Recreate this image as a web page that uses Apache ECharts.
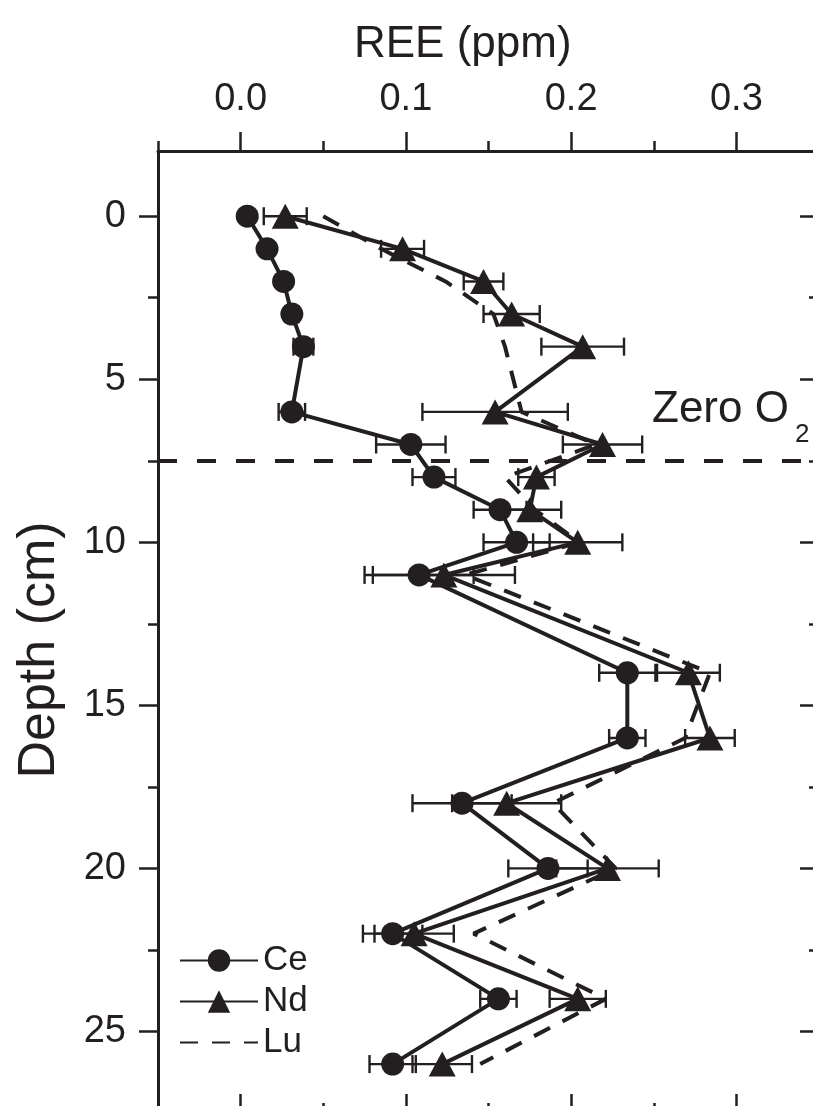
<!DOCTYPE html>
<html><head><meta charset="utf-8">
<script src="https://cdn.jsdelivr.net/npm/echarts@6/dist/echarts.min.js"></script>
<style>html,body{margin:0;padding:0;background:#fff;overflow:hidden}#c{width:813px;height:1106px}</style>
</head><body><div id="c"></div>
<script>
// ---- data ----
const depths = [0, 1, 2, 3, 4, 6, 7, 8, 9, 10, 11, 14, 16, 18, 20, 22, 24, 26];
const ceValues = [0.004, 0.016, 0.026, 0.031, 0.038, 0.031, 0.103, 0.117, 0.157, 0.167, 0.108, 0.234, 0.234, 0.134, 0.186, 0.092, 0.156, 0.092];
const ceErrors = [0.003, 0.003, 0.003, 0.004, 0.006, 0.008, 0.021, 0.013, 0.016, 0.020, 0.033, 0.017, 0.011, 0.030, 0.024, 0.018, 0.011, 0.014];
const ndValues = [0.027, 0.098, 0.147, 0.164, 0.207, 0.154, 0.219, 0.179, 0.175, 0.204, 0.123, 0.271, 0.284, 0.161, 0.222, 0.105, 0.204, 0.122];
const ndErrors = [0.013, 0.013, 0.012, 0.017, 0.025, 0.044, 0.024, 0.011, 0.019, 0.027, 0.043, 0.019, 0.015, 0.033, 0.031, 0.024, 0.017, 0.018];
const luValues = [0.050, 0.085, 0.124, 0.153, 0.160, 0.170, 0.215, 0.160, 0.178, 0.205, 0.136, 0.284, 0.269, 0.189, 0.227, 0.141, 0.221, 0.145];
const xTickLabels = [0, 0.1, 0.2, 0.3];
const xMinorTicks = [-0.05, 0.05, 0.15, 0.25, 0.35];
const yTickLabels = [0, 5, 10, 15, 20, 25];
const yMinorTicks = [2.5, 7.5, 12.5, 17.5, 22.5, 27.5];
const zeroO2Depth = 7.5;

const INK = '#231f20';
const FONT = '"Liberation Sans", Arial, Helvetica, sans-serif';

function pairs(vals) { return depths.map((d, i) => [vals[i], d]); }
function errPairs(vals, errs) { return depths.map((d, i) => [vals[i], d, errs[i]]); }

function errRender(params, api) {
  const x = api.value(0), y = api.value(1), e = api.value(2);
  const p1 = api.coord([x - e, y]), p2 = api.coord([x + e, y]);
  const h = 9;
  const style = { stroke: INK, lineWidth: 2.4 };
  return { type: 'group', children: [
    { type: 'line', shape: { x1: p1[0], y1: p1[1], x2: p2[0], y2: p2[1] }, style },
    { type: 'line', shape: { x1: p1[0], y1: p1[1] - h, x2: p1[0], y2: p1[1] + h }, style },
    { type: 'line', shape: { x1: p2[0], y1: p2[1] - h, x2: p2[0], y2: p2[1] + h }, style }
  ]};
}

function xAxisDef(position, ticks, len, inside, showLabels, showLine) {
  return {
    type: 'value', position, min: -0.05, max: 0.35,
    splitLine: { show: false },
    axisLine: { show: showLine, onZero: false, lineStyle: { color: INK, width: 3 } },
    axisTick: { show: true, customValues: ticks, length: len, inside, lineStyle: { color: INK, width: 2.5 } },
    axisLabel: showLabels ? { show: true, customValues: xTickLabels, formatter: v => v.toFixed(1),
      color: INK, fontSize: 38, fontFamily: FONT, margin: 32 } : { show: false }
  };
}
function yAxisDef(position, ticks, len, inside, showLabels, showLine) {
  return {
    type: 'value', position, inverse: true, min: -2, max: 27.5,
    splitLine: { show: false },
    axisLine: { show: showLine, onZero: false, lineStyle: { color: INK, width: 3 } },
    axisTick: { show: true, customValues: ticks, length: len, inside, lineStyle: { color: INK, width: 2.5 } },
    axisLabel: showLabels ? { show: true, customValues: yTickLabels, color: INK, fontSize: 38,
      fontFamily: FONT, margin: 32 } : { show: false }
  };
}

const chart = echarts.init(document.getElementById('c'), null, { renderer: 'canvas' });
chart.setOption({
  animation: false,
  backgroundColor: '#fff',
  textStyle: { fontFamily: FONT },
  grid: { left: 158, top: 151, width: 661, height: 962, containLabel: false, outerBoundsMode: 'none' },
  xAxis: [
    xAxisDef('top', xTickLabels, 19, false, true, true),
    xAxisDef('top', xMinorTicks, 10, false, false, false),
    xAxisDef('bottom', xTickLabels, 19, true, false, true),
    xAxisDef('bottom', xMinorTicks, 10, true, false, false)
  ],
  yAxis: [
    yAxisDef('left', yTickLabels, 19, false, true, true),
    yAxisDef('left', yMinorTicks, 10, false, false, false),
    yAxisDef('right', yTickLabels, 19, true, false, true),
    yAxisDef('right', yMinorTicks, 10, true, false, false)
  ],
  legend: {
    orient: 'vertical', left: 174, top: 938, itemWidth: 78, itemHeight: 28, itemGap: 6,
    data: ['Ce', 'Nd', 'Lu'],
    textStyle: { color: INK, fontSize: 35, fontFamily: FONT }
  },
  title: {
    text: 'REE (ppm)', left: 349, top: 18,
    textStyle: { color: INK, fontSize: 44, fontWeight: 'normal', fontFamily: FONT }
  },
  graphic: [
    { type: 'text', x: 40, y: 650, rotation: Math.PI / 2,
      style: { text: 'Depth (cm)', fill: INK, font: '52px ' + FONT, align: 'center', verticalAlign: 'middle' } },
    { type: 'text', x: 652, y: 410,
      style: { text: 'Zero O', fill: INK, font: '44px ' + FONT, align: 'left', verticalAlign: 'middle' } },
    { type: 'text', x: 795, y: 435,
      style: { text: '2', fill: INK, font: '26px ' + FONT, align: 'left', verticalAlign: 'middle' } }
  ],
  series: [
    { type: 'custom', name: 'CeErr', renderItem: errRender, data: errPairs(ceValues, ceErrors),
      encode: { x: 0, y: 1 }, z: 1, silent: true },
    { type: 'custom', name: 'NdErr', renderItem: errRender, data: errPairs(ndValues, ndErrors),
      encode: { x: 0, y: 1 }, z: 1, silent: true },
    { name: 'Lu', type: 'line', data: pairs(luValues), symbol: 'none', showSymbol: false,
      lineStyle: { color: INK, width: 4, type: [18, 14] }, itemStyle: { color: 'rgba(0,0,0,0)' }, z: 2,
      markLine: { silent: true, symbol: ['none', 'none'], label: { show: false },
        lineStyle: { color: INK, width: 4, type: [19, 20] },
        data: [{ yAxis: zeroO2Depth }] } },
    { name: 'Ce', type: 'line', data: pairs(ceValues), symbol: 'circle', symbolSize: 23,
      lineStyle: { color: INK, width: 4 }, itemStyle: { color: INK }, z: 3 },
    { name: 'Nd', type: 'line', data: pairs(ndValues), symbol: 'triangle', symbolSize: [27, 25],
      lineStyle: { color: INK, width: 4 }, itemStyle: { color: INK }, z: 3 }
  ]
});
</script></body></html>
